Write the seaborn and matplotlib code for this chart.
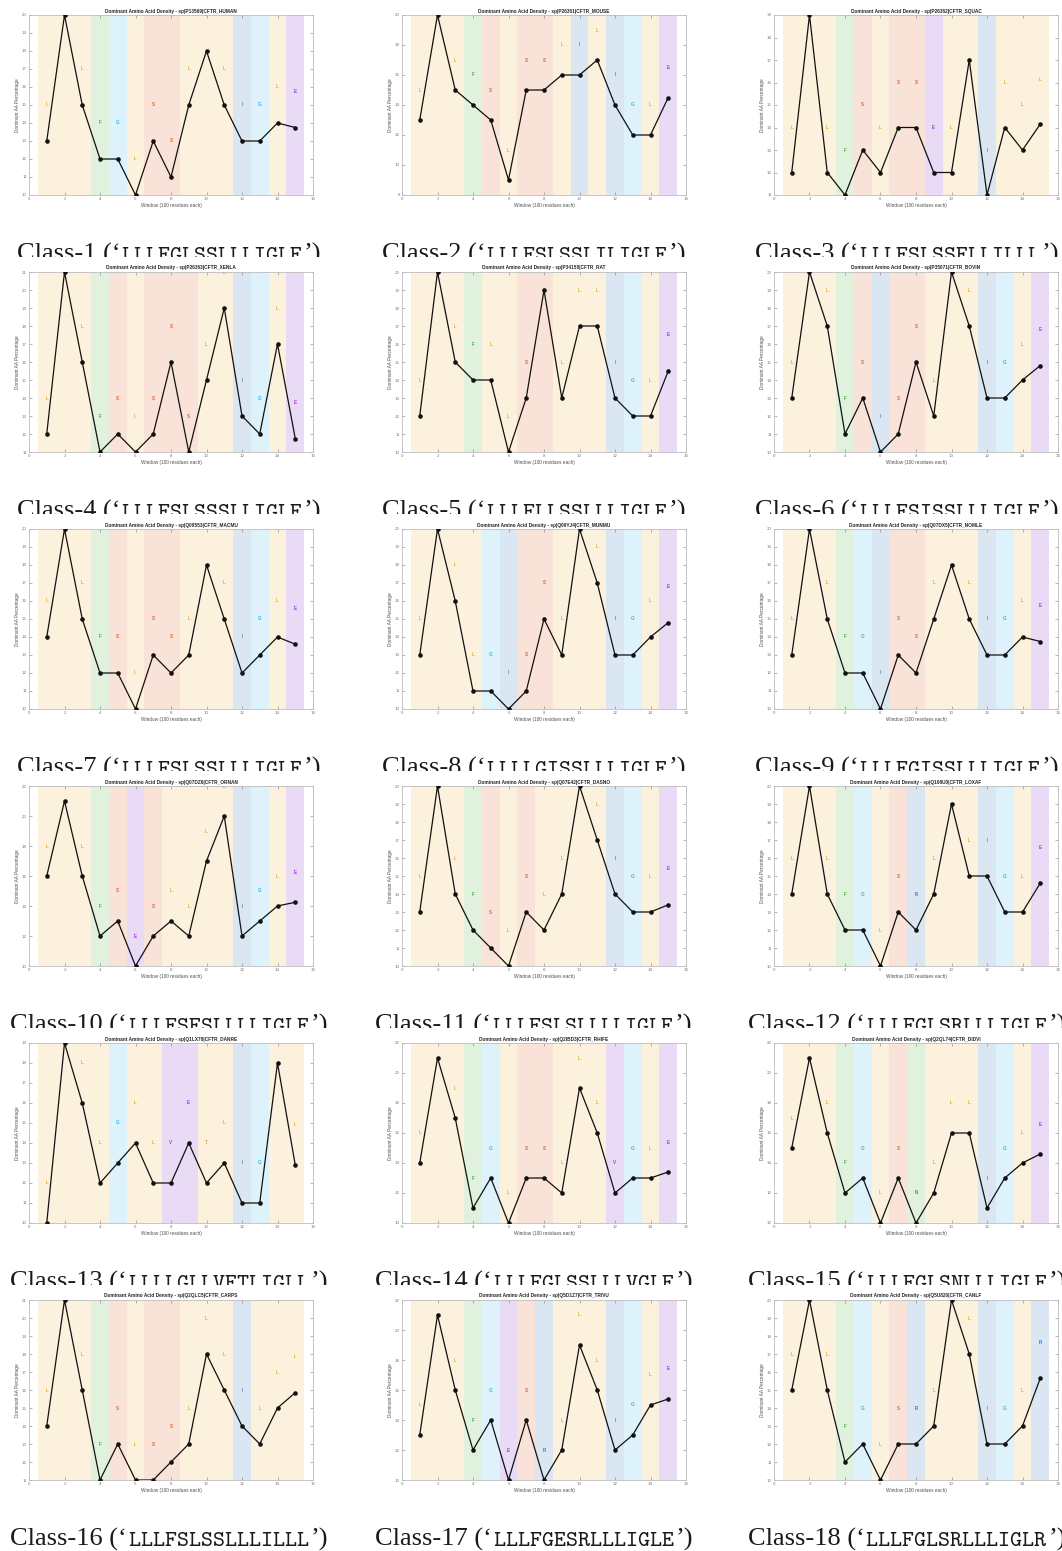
import matplotlib
matplotlib.use("Agg")
import matplotlib.pyplot as plt
import numpy as np
import pandas as pd
import seaborn as sns
from matplotlib.transforms import Bbox, TransformedBbox

# ---------------------------------------------------------------- data
protein_ids = [
    "sp|P13569|CFTR_HUMAN", "sp|P26361|CFTR_MOUSE", "sp|P26362|CFTR_SQUAC",
    "sp|P26363|CFTR_XENLA", "sp|P34158|CFTR_RAT", "sp|P35071|CFTR_BOVIN",
    "sp|Q00553|CFTR_MACMU", "sp|Q09YJ4|CFTR_MUNMU", "sp|Q07DX5|CFTR_NOMLE",
    "sp|Q07DZ6|CFTR_ORNAN", "sp|Q07E42|CFTR_DASNO", "sp|Q108U0|CFTR_LOXAF",
    "sp|Q1LX78|CFTR_DANRE", "sp|Q2IBD3|CFTR_RHIFE", "sp|Q2QL74|CFTR_DIDVI",
    "sp|Q2QLC5|CFTR_CARPS", "sp|Q5D1Z7|CFTR_TRIVU", "sp|Q5U820|CFTR_CANLF",
]

class_sequences = [
    "LLLFGLSSLLLIGLE", "LLLFSLSSLILIGLE", "LLLFSLSSELLILLL",
    "LLLFSLSSSLLIGLE", "LLLFLLSSLLLIGLE", "LLLFSISSLLLIGLE",
    "LLLFSLSSLLLIGLE", "LLLLGISSLLLIGLE", "LLLFGISSLLLIGLE",
    "LLLFSESLLLLIGLE", "LLLFSLSLLLLIGLE", "LLLFGLSRLLLIGLE",
    "LLLLGLLVETLIGLL", "LLLFGLSSLLLVGLE", "LLLFGLSNLLLIGLE",
    "LLLFSLSSLLLILLL", "LLLFGESRLLLIGLE", "LLLFGLSRLLLIGLR",
]

windows = list(range(1, 16))

pct_human = [13, 20, 15, 12, 12, 10, 13, 11, 15, 18, 15, 13, 13, 14, 13.75]
pct_mouse = [13, 20, 15, 14, 13, 9, 15, 15, 16, 16, 17, 14, 12, 12, 14.5]
pct_squac = [12, 19, 12, 11, 13, 12, 14, 14, 12, 12, 17, 11, 14, 13, 14.15]
pct_xenla = [12, 21, 16, 11, 12, 11, 12, 16, 11, 15, 19, 13, 12, 17, 11.75]
pct_rat = [12, 20, 15, 14, 14, 10, 13, 19, 13, 17, 17, 13, 12, 12, 14.5]
pct_bovin = [13, 20, 17, 11, 13, 10, 11, 15, 12, 20, 17, 13, 13, 14, 14.8]
pct_macmu = [14, 20, 15, 12, 12, 10, 13, 12, 13, 18, 15, 12, 13, 14, 13.6]
pct_munmu = [13, 20, 16, 11, 11, 10, 11, 15, 13, 20, 17, 13, 13, 14, 14.8]
pct_nomle = [13, 20, 15, 12, 12, 10, 13, 12, 15, 18, 15, 13, 13, 14, 13.75]
pct_ornan = [16, 21, 16, 12, 13, 10, 12, 13, 12, 17, 20, 12, 13, 14, 14.25]
pct_dasno = [13, 20, 14, 12, 11, 10, 13, 12, 14, 20, 17, 14, 13, 13, 13.4]
pct_loxaf = [14, 20, 14, 12, 12, 10, 13, 12, 14, 19, 15, 15, 13, 13, 14.6]
pct_danre = [10, 19, 16, 12, 13, 14, 12, 12, 14, 12, 13, 11, 11, 18, 12.9]
pct_rhife = [14, 21, 17, 11, 13, 10, 13, 13, 12, 19, 16, 12, 13, 13, 13.4]
pct_didvi = [15, 21, 16, 12, 13, 10, 13, 10, 12, 16, 16, 11, 13, 14, 14.6]
pct_carps = [14, 21, 16, 11, 13, 11, 11, 12, 13, 18, 16, 14, 13, 15, 15.85]
pct_trivu = [13, 21, 16, 12, 14, 10, 14, 10, 12, 19, 16, 12, 13, 15, 15.4]
pct_canlf = [15, 20, 15, 11, 12, 10, 12, 12, 13, 20, 17, 12, 12, 13, 15.65]

y_ranges = [
    (10, 20), (8, 20), (11, 19), (11, 21), (10, 20), (10, 20),
    (10, 20), (10, 20), (10, 20), (10, 22), (10, 20), (10, 20),
    (10, 19), (10, 22), (10, 22), (11, 21), (10, 22), (10, 20),
]
y_steps = [1, 2, 1, 1, 1, 1, 1, 1, 1, 2, 1, 1, 1, 2, 2, 1, 2, 1]

all_pct = [pct_human, pct_mouse, pct_squac, pct_xenla, pct_rat, pct_bovin,
           pct_macmu, pct_munmu, pct_nomle, pct_ornan, pct_dasno, pct_loxaf,
           pct_danre, pct_rhife, pct_didvi, pct_carps, pct_trivu, pct_canlf]

# residue colours: letter colour and shaded band colour
letter_colors = {
    "L": "#EDB120", "F": "#4DB04A", "G": "#2BB5EE", "S": "#E4602A",
    "I": "#4A8FD6", "E": "#A03DE0", "V": "#A03DE0", "R": "#2F7FD0",
    "T": "#E8A030", "N": "#45A845",
}
band_colors = {
    "L": "#FBF1DD", "F": "#E0F1DE", "G": "#DEF2FC", "S": "#F9E3D8",
    "I": "#DAE7F3", "E": "#E9DBF6", "V": "#E9DBF6", "R": "#DAE7F3",
    "T": "#FBF1DD", "N": "#E0F1DE",
}

# letters sit this far above their point
label_offset = 2

# ---------------------------------------------------------------- figure
sns.set_theme(style="white")
plt.rcParams["font.family"] = ["Liberation Sans", "DejaVu Sans"]

W, H = 1062, 1551
fig = plt.figure(figsize=(W / 100, H / 100), dpi=100)
fig.patch.set_facecolor("white")

col_left = [29, 402, 774]
ax_w, ax_h = 284, 180
row_step = 257
cap_center = [168, 533, 906]

spine_col = "#BDBDBD"
tick_col = "#7A7A7A"

for k in range(18):
    r, c = divmod(k, 3)
    top = 15 + row_step * r
    ax = fig.add_axes([col_left[c] / W, 1 - (top + ax_h) / H, ax_w / W, ax_h / H])
    ax.set_facecolor("white")

    seq = class_sequences[k]
    vals = all_pct[k]
    df = pd.DataFrame({"window": windows, "pct": vals, "aa": list(seq)})
    y0, y1 = y_ranges[k]

    for w, aa in zip(windows, seq):
        ax.axvspan(w - 0.5, w + 0.5, color=band_colors[aa], lw=0, zorder=0)

    sns.lineplot(data=df, x="window", y="pct", ax=ax, color="#111111",
                 lw=0.9, marker="o", markersize=3.3, markeredgewidth=0,
                 markerfacecolor="#111111", zorder=3)

    # residue letters; those far above the axis top are not drawn
    for w, v, aa in zip(df["window"], df["pct"], df["aa"]):
        ly = v + label_offset
        if ly > y1 + 0.3:
            continue
        ax.text(w, ly, aa, ha="center", va="center", fontsize=3.3,
                fontweight="bold", color=letter_colors[aa], clip_on=True,
                zorder=4)

    ax.set_xlim(0, 16)
    ax.set_ylim(y0, y1)
    ax.set_xticks(np.arange(0, 17, 2))
    ax.set_yticks(np.arange(y0, y1 + 0.1, y_steps[k]))
    ax.tick_params(direction="in", length=2.2, width=0.4, colors=tick_col,
                   labelsize=3.2, pad=1.5, right=True, top=True,
                   left=True, bottom=True)
    for s in ax.spines.values():
        s.set_color(spine_col)
        s.set_linewidth(0.6)
        s.set_visible(True)
    ax.set_title(f"Dominant Amino Acid Density - {protein_ids[k]}",
                 fontsize=3.4, fontweight="bold", color="#262626", pad=1.8)
    ax.set_xlabel("Window (100 residues each)", fontsize=3.4, color="#505050",
                  labelpad=1.5)
    ax.set_ylabel("Dominant AA Percentage", fontsize=3.4, color="#505050",
                  labelpad=1.5)

# ---------------------------------------------------------------- captions
renderer = fig.canvas.get_renderer()
for k in range(18):
    r, c = divmod(k, 3)
    base_px = 261 + row_step * r
    y = 1 - base_px / H
    prefix = f"Class-{k + 1} (\u2018"
    middle = r"$\mathtt{" + class_sequences[k] + r"}$"
    suffix = "\u2019)"
    t1 = fig.text(0, y, prefix, fontsize=19, family="Liberation Serif",
                  va="baseline", ha="left", color="#1a1a1a")
    t2 = fig.text(0, y, middle, fontsize=16.5, math_fontfamily="cm",
                  va="baseline", ha="left", color="#1a1a1a")
    t3 = fig.text(0, y, suffix, fontsize=19, family="Liberation Serif",
                  va="baseline", ha="left", color="#1a1a1a")
    w1 = t1.get_window_extent(renderer).width
    w2 = t2.get_window_extent(renderer).width
    w3 = t3.get_window_extent(renderer).width
    x0 = cap_center[c] - (w1 + w2 + w3) / 2
    t1.set_x(x0 / W)
    t2.set_x((x0 + w1 + 1) / W)
    t3.set_x((x0 + w1 + w2 + 2) / W)
    if r < 5:
        # the row below overlaps the lower part of this caption
        clip_px = 257 + row_step * r
        box = TransformedBbox(Bbox([[0, 1 - clip_px / H], [1, 1 - (clip_px - 50) / H]]),
                              fig.transFigure)
        for t in (t1, t2, t3):
            t.set_clip_box(box)
            t.set_clip_on(True)

fig.savefig("out.png", dpi=100, facecolor="white")
